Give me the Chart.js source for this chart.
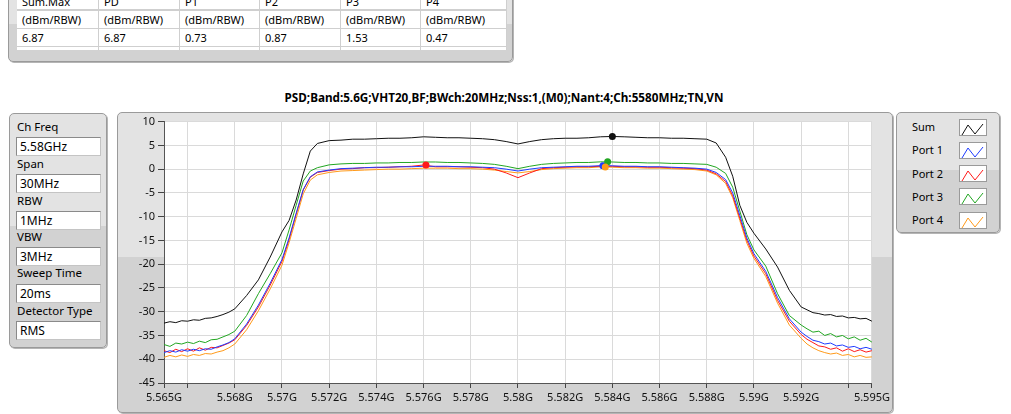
<!DOCTYPE html>
<html>
<head>
<meta charset="utf-8">
<title>PSD</title>
<script src="https://cdn.jsdelivr.net/npm/chart.js@4/dist/chart.umd.min.js"></script>
<style>
	body { margin: 0; width: 1011px; height: 414px; position: relative; overflow: hidden; background: #fff; font-family: "Noto Sans", sans-serif; color: #000; }
	.panel { position: absolute; box-sizing: border-box; border: 1px solid #9a9a9a; border-radius: 5px; background: linear-gradient(#e3e3e3 0, #e3e3e3 48%, #d2d2d2 48%, #d2d2d2 100%); box-shadow: 1px 1px 0 #b5b5b5; }
	#tbl { position: absolute; left: 17px; top: 0; width: 490px; height: 50px; overflow: hidden; background: #fff; }
	.cell { position: absolute; box-sizing: border-box; height: 18px; line-height: 18px; padding-left: 5px; font-size: 11px; border-right: 1px solid #cfcfcf; border-bottom: 1px solid #cfcfcf; }
	.lbl { position: absolute; left: 17px; font-size: 11.5px; line-height: 16px; }
	.box { position: absolute; left: 16px; width: 85px; height: 19px; box-sizing: border-box; background: #fff; border: 1px solid #8a8a8a; border-right-color: #c4c4c4; border-bottom-color: #c4c4c4; font-size: 12px; line-height: 17px; padding-left: 3px; }
	#title { position: absolute; left: 0; width: 1008px; top: 89px; text-align: center; font-size: 11.7px; font-weight: bold; }
	.leg { position: absolute; left: 912px; font-size: 11px; line-height: 16px; }
	.sw { position: absolute; left: 959px; width: 28px; height: 17px; box-sizing: border-box; background: #fff; border: 1px solid #9a9a9a; }
	#psd { position: absolute; left: 117px; top: 112px; }
</style>
</head>
<body>
<div class="panel" style="left:8px;top:-12px;width:505px;height:74px;"></div>
<div id="tbl"></div>

<div class="panel" style="left:9px;top:113px;width:98px;height:235px;"></div>
<div id="settings"></div>

<div id="title">PSD;Band:5.6G;VHT20,BF;BWch:20MHz;Nss:1,(M0);Nant:4;Ch:5580MHz;TN,VN</div>
<div class="panel" style="left:117px;top:112px;width:776px;height:301px;"></div>
<canvas id="psd" width="776" height="301" style="width:776px;height:301px;"></canvas>

<div class="panel" style="left:896px;top:112px;width:104px;height:121px;"></div>
<div id="legend"></div>

<script>
// result table
const tableHeaders = ['Sum.Max', 'PD', 'P1', 'P2', 'P3', 'P4'];
const tableUnits = ['(dBm/RBW)', '(dBm/RBW)', '(dBm/RBW)', '(dBm/RBW)', '(dBm/RBW)', '(dBm/RBW)'];
const tableValues = ['6.87', '6.87', '0.73', '0.87', '1.53', '0.47'];

// analyzer settings
const settingLabels = ['Ch Freq', 'Span', 'RBW', 'VBW', 'Sweep Time', 'Detector Type'];
const settingValues = ['5.58GHz', '30MHz', '1MHz', '3MHz', '20ms', 'RMS'];

// x axis (GHz)
const xTickValues = [5.565, 5.566, 5.568, 5.570, 5.572, 5.574, 5.576, 5.578, 5.580, 5.582, 5.584, 5.586, 5.588, 5.590, 5.592, 5.594, 5.595];
const xTickLabels = ['5.565G', '', '5.568G', '5.57G', '5.572G', '5.574G', '5.576G', '5.578G', '5.58G', '5.582G', '5.584G', '5.586G', '5.588G', '5.59G', '5.592G', '', '5.595G'];

const freqs = [
	5.565, 5.56525, 5.5655, 5.56575, 5.566, 5.56625, 5.5665, 5.56675, 5.567, 5.56725, 5.5675, 5.56775, 5.568,
	5.5685, 5.569, 5.5695, 5.57, 5.5703, 5.5706, 5.5709, 5.5712, 5.5715,
	5.572, 5.5725, 5.573, 5.5735, 5.574, 5.5745, 5.575, 5.5755, 5.576, 5.5765, 5.577, 5.5775, 5.578, 5.5785, 5.579, 5.5795,
	5.58, 5.5805, 5.581, 5.5815, 5.582, 5.5825, 5.583, 5.5835, 5.584, 5.5845, 5.585, 5.5855, 5.586, 5.5865, 5.587, 5.5875, 5.588,
	5.5884, 5.5888, 5.5891, 5.5894, 5.5897, 5.59, 5.5905, 5.591, 5.5915,
	5.592, 5.59225, 5.5925, 5.59275, 5.593, 5.59325, 5.5935, 5.59375, 5.594, 5.59425, 5.5945, 5.59475, 5.595
];

const sumTrace = [
	-32.4, -32.1, -32.3, -31.9, -32.0, -31.7, -31.8, -31.4, -31.3, -31.0, -30.6, -30.1, -29.4,
	-26.6, -23.3, -18.5, -13.2, -10.8, -6.5, -1.0, 3.8, 5.4,
	6.0, 6.1, 6.3, 6.3, 6.4, 6.5, 6.5, 6.6, 6.8, 6.7, 6.6, 6.6, 6.5, 6.4, 6.2, 5.8,
	5.3, 5.8, 6.2, 6.4, 6.5, 6.5, 6.6, 6.8, 6.87, 6.8, 6.7, 6.6, 6.6, 6.5, 6.5, 6.4, 6.3,
	5.5, 2.5, -1.5, -7.6, -11.2, -13.5, -16.8, -20.6, -25.5,
	-29.0, -29.6, -30.2, -30.4, -30.7, -30.6, -31.0, -30.9, -31.3, -31.2, -31.5, -31.4, -32.0
];
const port1 = [
	-38.6, -38.2, -38.5, -38.0, -38.3, -37.9, -38.2, -37.8, -37.9, -37.4, -37.0, -36.5, -35.7,
	-32.6, -28.6, -24.0, -19.0, -14.5, -9.3, -4.3, -1.6, -0.6,
	-0.2, 0.1, 0.2, 0.3, 0.4, 0.4, 0.5, 0.5, 0.6, 0.6, 0.6, 0.5, 0.5, 0.4, 0.3, 0.0,
	-0.4, 0.0, 0.3, 0.4, 0.5, 0.6, 0.6, 0.73, 0.7, 0.6, 0.6, 0.5, 0.5, 0.4, 0.3, 0.2, 0.0,
	-0.7, -2.2, -5.0, -9.7, -14.5, -17.8, -21.5, -27.0, -31.5,
	-34.3, -35.2, -36.0, -36.3, -36.8, -36.6, -37.2, -37.0, -37.5, -37.3, -37.8, -37.5, -37.9
];
const port2 = [
	-38.2, -38.6, -37.9, -38.4, -37.8, -38.3, -37.6, -38.1, -37.5, -37.6, -37.1, -36.6, -35.9,
	-32.9, -29.0, -24.4, -19.4, -14.8, -9.5, -4.4, -1.7, -0.7,
	-0.3, 0.0, 0.1, 0.3, 0.3, 0.4, 0.5, 0.6, 0.87, 0.5, 0.5, 0.5, 0.4, 0.3, 0.0, -0.8,
	-1.8, -0.8, 0.1, 0.3, 0.4, 0.5, 0.5, 0.6, 0.6, 0.5, 0.5, 0.4, 0.4, 0.3, 0.2, 0.1, -0.2,
	-1.0, -2.6, -5.6, -10.3, -15.0, -18.3, -22.0, -27.6, -32.0,
	-34.8, -35.8, -36.5, -37.2, -37.4, -37.9, -37.6, -38.3, -37.8, -38.4, -38.0, -38.5, -38.2
];
const port3 = [
	-36.9, -37.3, -36.6, -36.8, -36.4, -36.7, -36.2, -36.5, -35.9, -35.8, -35.3, -34.8, -34.1,
	-30.8, -26.2, -22.0, -17.6, -12.8, -7.6, -2.5, -0.4, 0.3,
	0.9, 1.1, 1.2, 1.2, 1.3, 1.3, 1.4, 1.4, 1.5, 1.5, 1.4, 1.4, 1.3, 1.2, 1.0, 0.6,
	0.1, 0.6, 1.0, 1.2, 1.3, 1.4, 1.4, 1.53, 1.5, 1.4, 1.4, 1.3, 1.3, 1.2, 1.2, 1.1, 1.0,
	0.4, -0.9, -3.8, -8.8, -13.8, -17.0, -20.4, -26.2, -30.8,
	-32.8, -33.6, -34.3, -34.1, -35.0, -34.6, -35.3, -35.0, -35.7, -35.3, -36.0, -35.6, -36.4
];
const port4 = [
	-39.6, -39.2, -39.5, -39.1, -39.4, -39.0, -39.2, -38.8, -38.9, -38.5, -38.2, -37.6, -36.8,
	-33.8, -29.8, -25.2, -20.2, -15.5, -10.4, -5.2, -2.3, -1.2,
	-0.7, -0.4, -0.3, -0.2, -0.1, 0.0, 0.0, 0.1, 0.2, 0.2, 0.2, 0.1, 0.1, 0.0, -0.2, -0.5,
	-0.8, -0.5, -0.1, 0.1, 0.2, 0.3, 0.3, 0.47, 0.4, 0.3, 0.3, 0.2, 0.2, 0.1, 0.0, -0.1, -0.4,
	-1.2, -3.0, -6.0, -10.8, -15.6, -18.8, -22.6, -28.2, -32.8,
	-35.6, -36.8, -37.6, -38.2, -38.6, -38.9, -38.7, -39.2, -39.0, -39.5, -39.2, -39.6, -39.5
];

const seriesNames = ['Sum', 'Port 1', 'Port 2', 'Port 3', 'Port 4'];
const seriesColors = ['#111111', '#1f3cff', '#ff1a1a', '#22a622', '#ff9a1a'];
const seriesValues = [sumTrace, port1, port2, port3, port4];

// peak markers
const peakFreqs = [5.584, 5.5836, 5.5761, 5.5838, 5.5837];
const peakValues = [6.87, 0.73, 0.87, 1.53, 0.47];

// table
const tbl = document.getElementById('tbl');
const colEdges = [0, 82, 163, 243, 324, 404, 490];
const addRow = (cells, top, extra) => {
	cells.forEach((text, i) => {
		const d = document.createElement('div');
		d.className = 'cell';
		d.style.left = colEdges[i] + 'px';
		d.style.top = top + 'px';
		d.style.width = (colEdges[i + 1] - colEdges[i]) + 'px';
		if (extra) d.style.borderBottom = extra;
		d.textContent = text;
		tbl.appendChild(d);
	});
};
addRow(tableHeaders, -7, '2px solid #cfcfcf');
addRow(tableUnits, 11);
addRow(tableValues, 29);
addRow(['', '', '', '', '', ''], 47);

// settings panel
const settings = document.getElementById('settings');
const labelTops = [119, 156, 193, 229, 265, 303];
const boxTops = [137, 174, 211, 247, 284, 321];
settingLabels.forEach((text, i) => {
	const l = document.createElement('div');
	l.className = 'lbl';
	l.style.top = labelTops[i] + 'px';
	l.textContent = text;
	settings.appendChild(l);
	const b = document.createElement('div');
	b.className = 'box';
	b.style.top = boxTops[i] + 'px';
	b.textContent = settingValues[i];
	settings.appendChild(b);
});

// legend
const legend = document.getElementById('legend');
seriesNames.forEach((name, i) => {
	const y = 127 + i * 23.3;
	const t = document.createElement('div');
	t.className = 'leg';
	t.style.top = (y - 8) + 'px';
	t.textContent = name;
	legend.appendChild(t);
	const s = document.createElement('div');
	s.className = 'sw';
	s.style.top = (y - 8.5) + 'px';
	s.innerHTML = '<svg width="26" height="15"><polyline points="2,13 8,3 15,12 23,2" fill="none" stroke="' + seriesColors[i] + '" stroke-width="1"/></svg>';
	legend.appendChild(s);
});

const plotBg = {
	id: 'plotBg',
	beforeDraw(chart) {
		const { ctx, chartArea: a } = chart;
		ctx.save();
		ctx.fillStyle = '#ffffff';
		ctx.fillRect(a.left, a.top, a.right - a.left, a.bottom - a.top);
		ctx.restore();
	}
};

// markers go last so they draw over the traces
const datasets = [{
	type: 'scatter',
	data: peakFreqs.map((f, i) => ({ x: f, y: peakValues[i] })),
	backgroundColor: seriesColors,
	borderWidth: 0,
	pointRadius: 3.5,
	order: 0
}];
seriesValues.forEach((vals, i) => {
	datasets.push({
		label: seriesNames[i],
		data: freqs.map((f, j) => ({ x: f, y: vals[j] })),
		borderColor: seriesColors[i],
		borderWidth: 1,
		pointRadius: 0,
		tension: 0,
		order: i + 1
	});
});

const tickFont = { family: 'Noto Sans', size: 11 };

new Chart(document.getElementById('psd'), {
	type: 'line',
	data: { datasets },
	options: {
		responsive: false,
		animation: false,
		layout: { padding: { top: 9, right: 20, bottom: 0, left: 0 } },
		plugins: { legend: { display: false }, tooltip: { enabled: false } },
		scales: {
			x: {
				type: 'linear',
				min: 5.565,
				max: 5.595,
				afterBuildTicks: s => { s.ticks = xTickValues.map(v => ({ value: v })); },
				afterFit: s => { s.height = 30; },
				ticks: { autoSkip: false, maxRotation: 0, padding: 3, color: '#111', font: tickFont, callback: (v, i) => xTickLabels[i] },
				grid: { color: '#dadada', tickColor: '#444', tickLength: 5 },
				border: { color: '#555' }
			},
			y: {
				min: -45,
				max: 10,
				afterFit: s => { s.width = 47; },
				ticks: { stepSize: 5, padding: 3, color: '#111', font: tickFont },
				grid: { color: '#dadada', tickColor: '#444', tickLength: 6 },
				border: { color: '#555' }
			}
		}
	},
	plugins: [plotBg]
});
</script>
</body>
</html>
